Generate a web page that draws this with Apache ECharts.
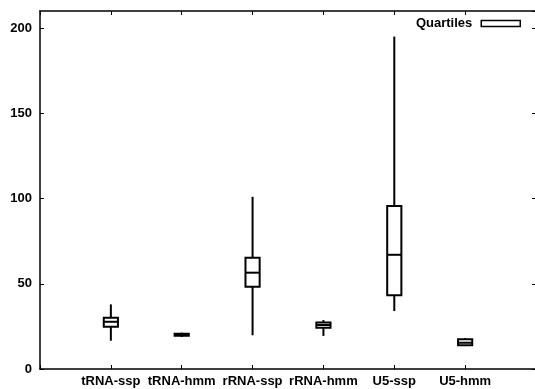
<!DOCTYPE html>
<html>
<head>
<meta charset="utf-8">
<script src="https://cdn.jsdelivr.net/npm/echarts@6/dist/echarts.min.js"></script>
<style>html,body{margin:0;padding:0;background:#fff}#c{width:535px;height:389px}</style>
</head>
<body>
<div id="c"></div>
<script>
var categories = ['tRNA-ssp', 'tRNA-hmm', 'rRNA-ssp', 'rRNA-hmm', 'U5-ssp', 'U5-hmm'];
var mins    = [16.6, 18.8, 19.8, 19.4, 34.0, 13.5];
var q1s     = [24.8, 19.5, 48.3, 24.2, 43.2, 13.9];
var medians = [27.7, 20.0, 56.5, 25.8, 67.0, 15.4];
var q3s     = [30.1, 20.7, 65.3, 27.3, 95.6, 17.4];
var maxs    = [37.9, 21.3, 101.0, 28.7, 195.0, 18.2];
var yTicks  = [0, 50, 100, 150, 200];
var seriesName = 'Quartiles';

var data = categories.map(function (c, i) {
  return [i + 1, mins[i], q1s[i], medians[i], q3s[i], maxs[i]];
});

var font = {fontFamily: 'Liberation Sans', fontWeight: 'bold', fontSize: 13, color: '#000'};
var LW = 2;

function renderItem(params, api) {
  var x = api.value(0);
  var lo = api.coord([x, api.value(1)]);
  var q1 = api.coord([x, api.value(2)]);
  var md = api.coord([x, api.value(3)]);
  var q3 = api.coord([x, api.value(4)]);
  var hi = api.coord([x, api.value(5)]);
  var w = api.size([0.2, 0])[0];
  var st = {stroke: '#000', lineWidth: LW, fill: null};
  return {
    type: 'group',
    children: [
      {type: 'line', shape: {x1: hi[0], y1: hi[1], x2: q3[0], y2: q3[1]}, style: st},
      {type: 'line', shape: {x1: q1[0], y1: q1[1], x2: lo[0], y2: lo[1]}, style: st},
      {type: 'rect', shape: {x: q3[0] - w / 2, y: q3[1], width: w, height: q1[1] - q3[1]}, style: {stroke: '#000', lineWidth: LW, fill: '#fff'}},
      {type: 'line', shape: {x1: md[0] - w / 2, y1: md[1], x2: md[0] + w / 2, y2: md[1]}, style: st}
    ]
  };
}

var xLabel = function (v) {
  var i = Math.round(v) - 1;
  return (i >= 0 && i < categories.length) ? categories[i] : '';
};
var yLabel = function (v) { return yTicks.indexOf(v) >= 0 ? String(v) : ''; };

var axisLineStyle = {onZero: false, lineStyle: {color: '#000', width: 1.5}};
var tickStyle = {show: true, inside: true, length: 4, lineStyle: {color: '#000', width: 1}};

var chart = echarts.init(document.getElementById('c'), null, {renderer: 'canvas'});
chart.setOption({
  animation: false,
  backgroundColor: '#fff',
  grid: {left: 40, right: -1, top: 11, bottom: 20, containLabel: false, outerBoundsMode: 'none'},
  legend: {
    data: [seriesName],
    right: 9, top: 12,
    align: 'right',
    icon: 'rect',
    itemWidth: 39, itemHeight: 6,
    itemStyle: {color: '#fff', borderColor: '#000', borderWidth: 1.5},
    textStyle: {fontFamily: 'Liberation Sans', fontWeight: 'bold', fontSize: 13, color: '#000', padding: [0, 4, 0, 0]}
  },
  xAxis: [{
    type: 'value', min: 0, max: 7, interval: 1, position: 'bottom',
    axisLine: axisLineStyle, axisTick: tickStyle, splitLine: {show: false},
    axisLabel: Object.assign({formatter: xLabel, margin: 6}, font)
  }, {
    type: 'value', min: 0, max: 7, interval: 1, position: 'top',
    axisLine: axisLineStyle, axisTick: tickStyle, splitLine: {show: false},
    axisLabel: {show: false}
  }],
  yAxis: [{
    type: 'value', min: 0, max: 210, interval: 50, position: 'left',
    axisLine: axisLineStyle, axisTick: tickStyle, splitLine: {show: false},
    axisLabel: Object.assign({formatter: yLabel, margin: 8, showMaxLabel: false}, font)
  }, {
    type: 'value', min: 0, max: 210, interval: 50, position: 'right',
    axisLine: axisLineStyle, axisTick: tickStyle, splitLine: {show: false},
    axisLabel: {show: false}
  }],
  series: [{
    name: seriesName,
    type: 'custom',
    renderItem: renderItem,
    data: data,
    encode: {x: 0, y: [1, 2, 3, 4, 5]},
    itemStyle: {color: '#fff', borderColor: '#000'}
  }]
});
</script>
</body>
</html>
